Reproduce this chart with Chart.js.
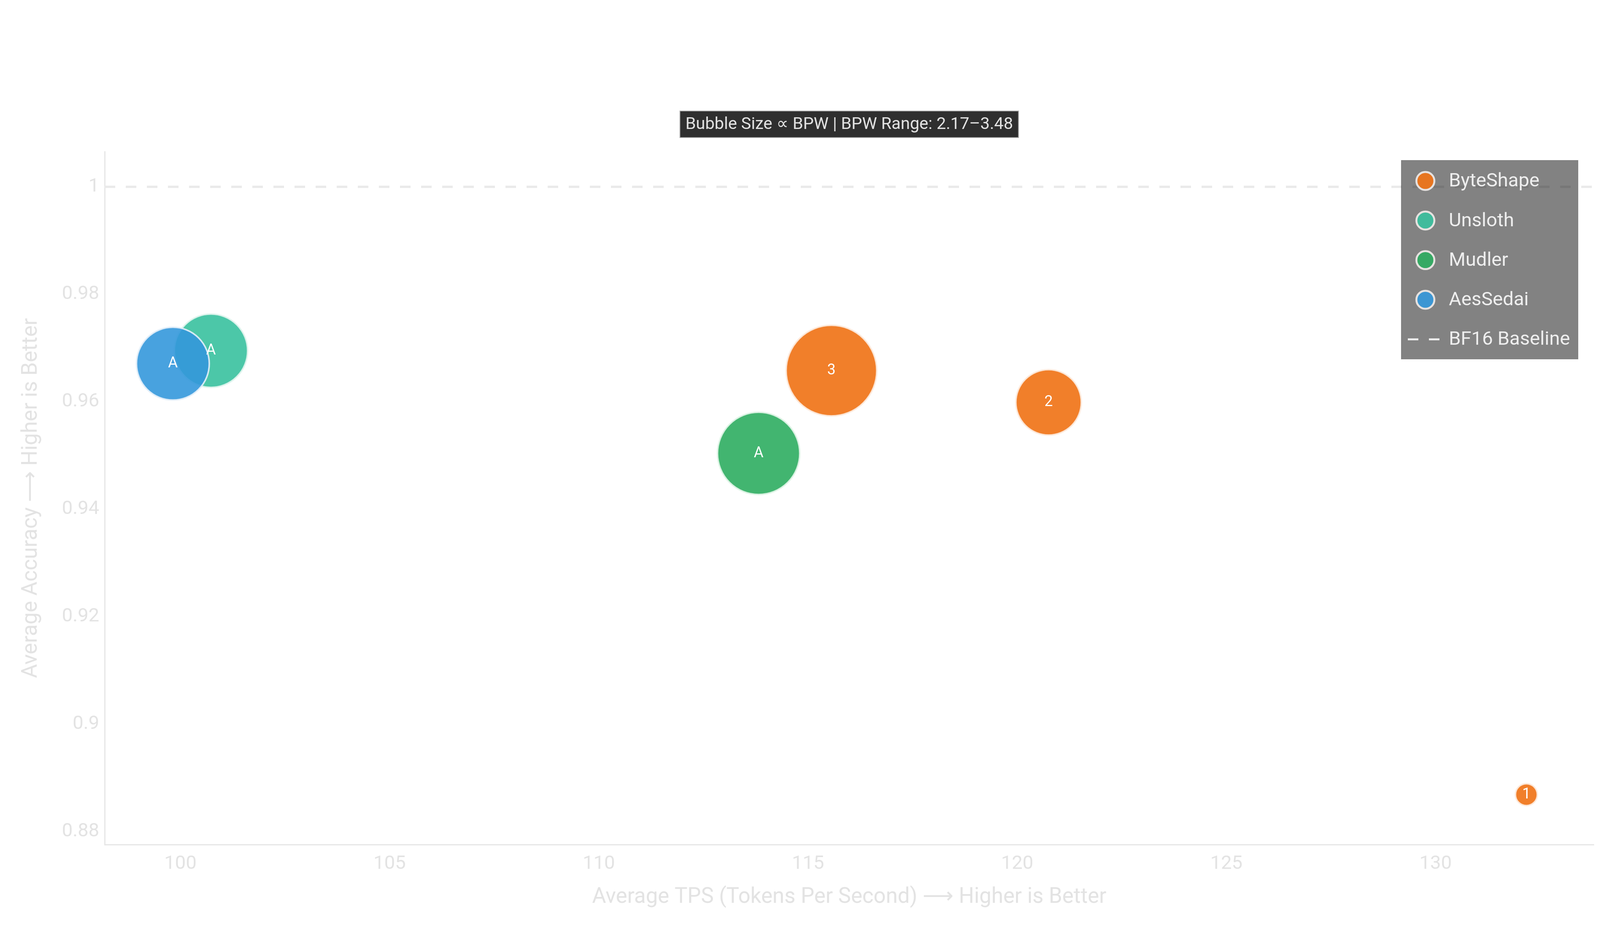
<!DOCTYPE html>
<html>
<head>
<meta charset="utf-8">
<title>TPS vs Accuracy</title>
<script src="https://cdn.jsdelivr.net/npm/chart.js@4.4.1/dist/chart.umd.min.js"></script>
<style>
    html, body { margin: 0; padding: 0; background: #ffffff; }
    #chart { display: block; }
</style>
</head>
<body>
<canvas id="chart" width="4200" height="2400"></canvas>
<script>
// Data
const seriesNames = ['ByteShape', 'Unsloth', 'Mudler', 'AesSedai'];

const byteShapeTps = [132.17, 120.75, 115.56];
const byteShapeAcc = [0.8869, 0.9599, 0.9658];
const byteShapeBpw = [2.17, 3.00, 3.48];
const byteShapeTags = ['1', '2', '3'];

const unslothTps = [100.73];
const unslothAcc = [0.9695];
const unslothBpw = [3.15];
const unslothTags = ['A'];

const mudlerTps = [113.82];
const mudlerAcc = [0.9504];
const mudlerBpw = [3.32];
const mudlerTags = ['A'];

const aesSedaiTps = [99.82];
const aesSedaiAcc = [0.9671];
const aesSedaiBpw = [3.14];
const aesSedaiTags = ['A'];

const baselineAcc = 1.0;
const bpwRange = [2.17, 3.48];

const xTickStep = 5;
const yTickStep = 0.02;
const xRange = [98.19, 133.78];
const yRange = [0.8776, 1.00655];

// Styling
const FONT = 'Roboto, "Noto Sans", "DejaVu Sans", sans-serif';
const R_MIN = 28;
const R_MAX = 116;
const seriesFill = ['rgba(240,116,24,0.92)', 'rgba(57,193,158,0.9)', 'rgba(46,173,97,0.9)', 'rgba(52,152,219,0.9)'];
const seriesEdge = ['rgba(253,235,222,0.9)', 'rgba(225,245,238,0.9)', 'rgba(225,245,232,0.9)', 'rgba(228,240,250,0.9)'];

function bubbleRadius(bpw) {
    return R_MIN + (bpw - bpwRange[0]) / (bpwRange[1] - bpwRange[0]) * (R_MAX - R_MIN);
}

function makePoints(tps, acc, bpw) {
    return tps.map((x, i) => ({ x: x, y: acc[i], r: bubbleRadius(bpw[i]) }));
}

const seriesData = [
    { tps: byteShapeTps, acc: byteShapeAcc, bpw: byteShapeBpw, tags: byteShapeTags, order: 1 },
    { tps: unslothTps, acc: unslothAcc, bpw: unslothBpw, tags: unslothTags, order: 4 },
    { tps: mudlerTps, acc: mudlerAcc, bpw: mudlerBpw, tags: mudlerTags, order: 3 },
    { tps: aesSedaiTps, acc: aesSedaiAcc, bpw: aesSedaiBpw, tags: aesSedaiTags, order: 2 }
];

const datasets = seriesData.map((s, i) => ({
    type: 'bubble',
    label: seriesNames[i],
    data: makePoints(s.tps, s.acc, s.bpw),
    tags: s.tags,
    backgroundColor: seriesFill[i],
    borderColor: seriesEdge[i],
    borderWidth: 4,
    order: s.order
}));

datasets.push({
    type: 'line',
    label: 'BF16 Baseline',
    data: [{ x: xRange[0], y: baselineAcc }, { x: xRange[1], y: baselineAcc }],
    borderColor: '#eaeaea',
    borderWidth: 6,
    borderDash: [27, 27],
    pointRadius: 0,
    fill: false,
    order: 9
});

// Letters / numbers inside the bubbles
const bubbleTags = {
    id: 'bubbleTags',
    afterDatasetsDraw(chart) {
        const ctx = chart.ctx;
        ctx.save();
        ctx.fillStyle = '#ffffff';
        ctx.font = `38px ${FONT}`;
        ctx.textAlign = 'center';
        ctx.textBaseline = 'middle';
        chart.data.datasets.forEach((ds, i) => {
            if (ds.type !== 'bubble') return;
            chart.getDatasetMeta(i).data.forEach((el, j) => {
                ctx.fillText(ds.tags[j], el.x, el.y);
            });
        });
        ctx.restore();
    }
};

// Dark caption box above the plot
const captionBox = {
    id: 'captionBox',
    afterDraw(chart) {
        const ctx = chart.ctx;
        const area = chart.chartArea;
        const text = `Bubble Size ∝ BPW | BPW Range: ${bpwRange[0].toFixed(2)}–${bpwRange[1].toFixed(2)}`;
        ctx.save();
        ctx.font = `43px ${FONT}`;
        const w = ctx.measureText(text).width + 28;
        const h = 68;
        const cx = (area.left + area.right) / 2;
        const cy = 318;
        ctx.fillStyle = '#2f2f2f';
        ctx.fillRect(cx - w / 2, cy - h / 2, w, h);
        ctx.strokeStyle = '#a8a8a8';
        ctx.lineWidth = 2;
        ctx.strokeRect(cx - w / 2, cy - h / 2, w, h);
        ctx.fillStyle = '#e2e2e2';
        ctx.textAlign = 'center';
        ctx.textBaseline = 'middle';
        ctx.fillText(text, cx, cy + 1);
        ctx.restore();
    }
};

// Semi-transparent legend inside the top right of the plot
const boxLegend = {
    id: 'boxLegend',
    afterDraw(chart) {
        const ctx = chart.ctx;
        const left = 3587, top = 410, width = 453, height = 509;
        const rowTop = 463, rowGap = 101.3;
        ctx.save();
        ctx.fillStyle = 'rgba(0,0,0,0.49)';
        ctx.fillRect(left, top, width, height);
        ctx.strokeStyle = 'rgba(0,0,0,0.1)';
        ctx.lineWidth = 2;
        ctx.strokeRect(left, top, width, height);
        ctx.font = `49px ${FONT}`;
        ctx.textBaseline = 'middle';
        chart.data.datasets.forEach((ds, i) => {
            const y = rowTop + i * rowGap;
            if (ds.type === 'bubble') {
                ctx.beginPath();
                ctx.arc(left + 62, y, 23, 0, Math.PI * 2);
                ctx.fillStyle = ds.backgroundColor;
                ctx.fill();
                ctx.strokeStyle = '#e6e2e0';
                ctx.lineWidth = 5;
                ctx.stroke();
            } else {
                ctx.strokeStyle = '#eeeeee';
                ctx.lineWidth = 5;
                ctx.beginPath();
                ctx.moveTo(left + 17, y);
                ctx.lineTo(left + 44, y);
                ctx.moveTo(left + 71, y);
                ctx.lineTo(left + 98, y);
                ctx.stroke();
            }
            ctx.fillStyle = '#eeeeee';
            ctx.fillText(ds.label, left + 122, y + 2);
        });
        ctx.restore();
    }
};

const axisText = '#e3e3e3';

new Chart(document.getElementById('chart').getContext('2d'), {
    type: 'bubble',
    data: { datasets: datasets },
    plugins: [bubbleTags, captionBox, boxLegend],
    options: {
        responsive: false,
        animation: false,
        devicePixelRatio: 1,
        events: [],
        layout: { padding: { top: 388, right: 120, bottom: 0, left: 0 } },
        plugins: {
            legend: { display: false },
            tooltip: { enabled: false }
        },
        scales: {
            x: {
                type: 'linear',
                min: xRange[0],
                max: xRange[1],
                grid: { display: false, drawTicks: false },
                border: { display: true, color: '#e6e6e6', width: 3 },
                ticks: {
                    stepSize: xTickStep,
                    includeBounds: false,
                    color: axisText,
                    padding: 20,
                    font: { family: FONT, size: 49 }
                },
                title: {
                    display: true,
                    text: 'Average TPS (Tokens Per Second) ⟶ Higher is Better',
                    color: axisText,
                    font: { family: FONT, size: 55 },
                    padding: { bottom: 71 }
                },
                afterFit(scale) { scale.height = 239; }
            },
            y: {
                type: 'linear',
                min: yRange[0],
                max: yRange[1],
                grid: { display: false, drawTicks: false },
                border: { display: true, color: '#e6e6e6', width: 3 },
                ticks: {
                    stepSize: yTickStep,
                    includeBounds: false,
                    color: axisText,
                    padding: 14,
                    font: { family: FONT, size: 49 },
                    callback: (v) => String(Number(v.toFixed(2)))
                },
                title: {
                    display: true,
                    text: 'Average Accuracy ⟶ Higher is Better',
                    color: axisText,
                    font: { family: FONT, size: 55 },
                    padding: { top: 47 }
                },
                afterFit(scale) { scale.width = 268; }
            }
        }
    }
});
</script>
</body>
</html>
